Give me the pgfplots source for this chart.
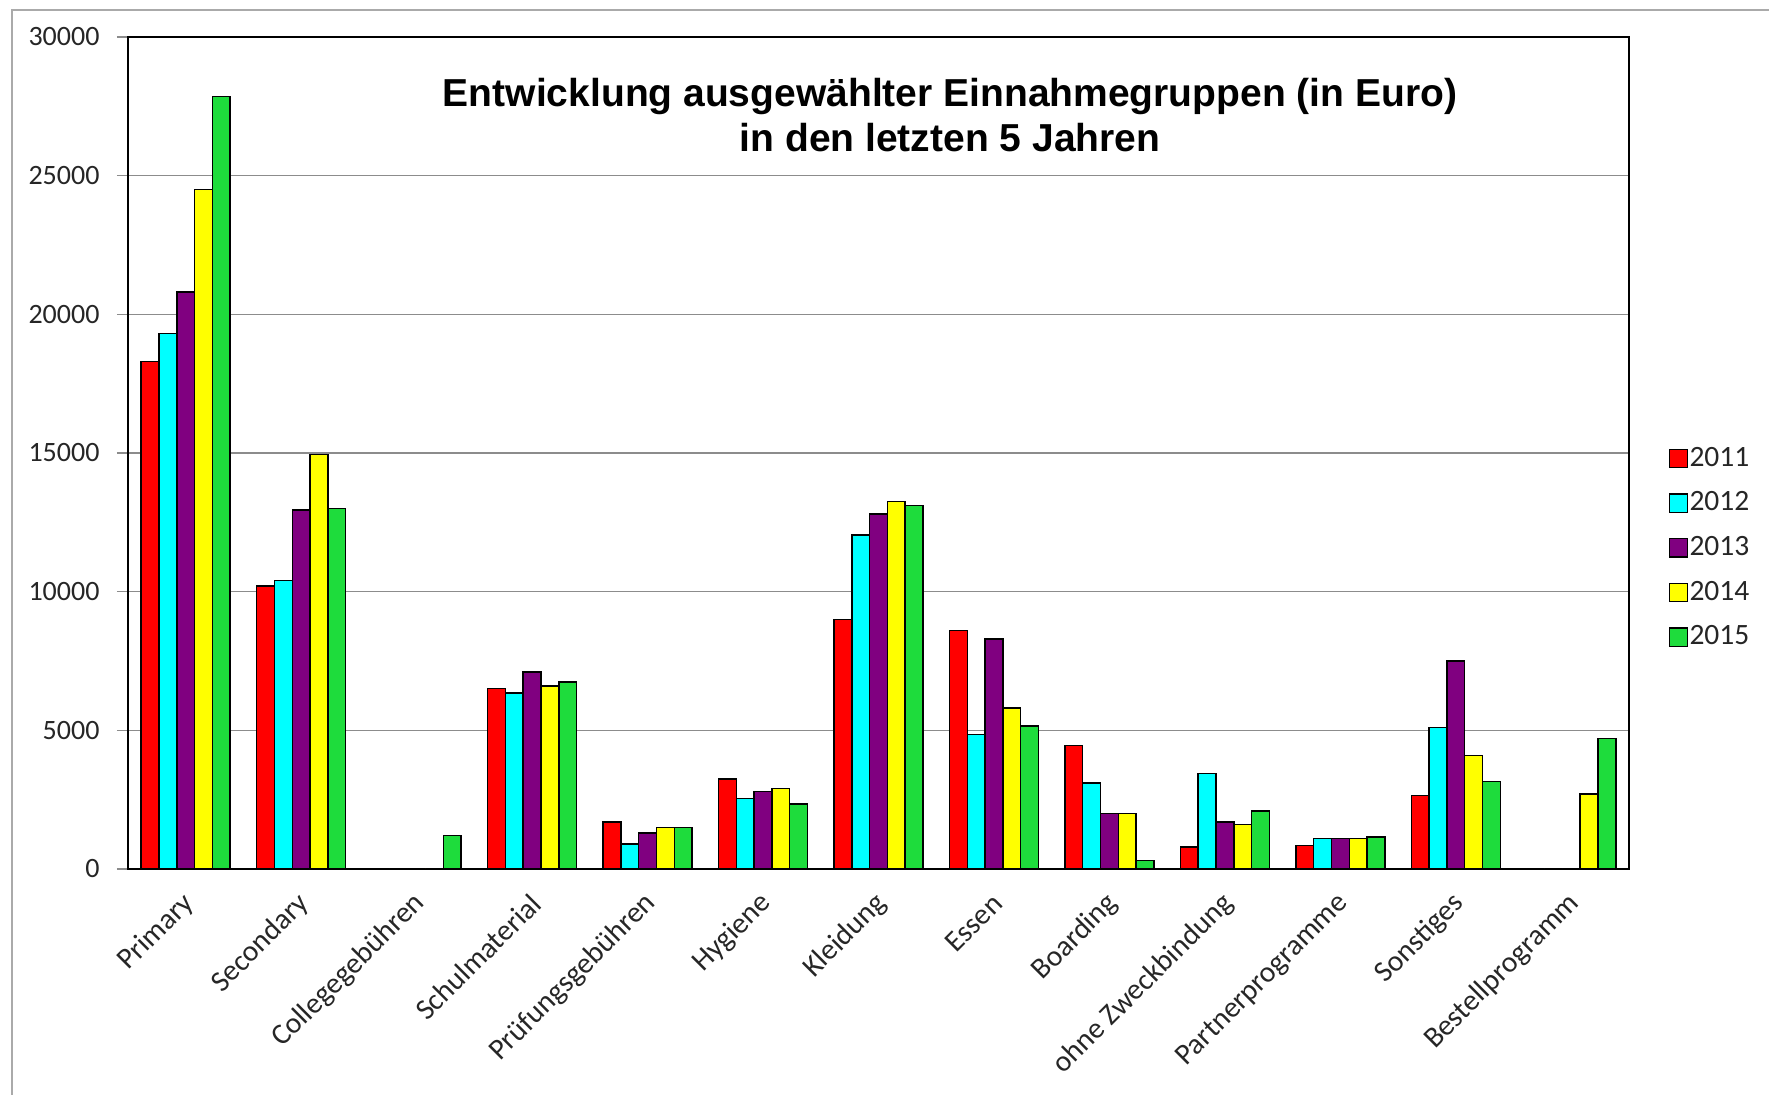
\documentclass[border=0pt]{standalone}
\usepackage{pgfplots}
\usepackage{pgfplotstable}
\pgfplotsset{compat=1.18}
\usepackage{fontspec}
\setmainfont{Carlito}
\newfontfamily\titlefont{Liberation Sans}
\definecolor{cRed}{RGB}{255,0,0}
\definecolor{cCyan}{RGB}{0,255,255}
\definecolor{cPurple}{RGB}{128,0,128}
\definecolor{cYellow}{RGB}{255,255,0}
\definecolor{cGreen}{RGB}{30,220,60}
\definecolor{gridgray}{RGB}{140,140,140}
\definecolor{framegray}{RGB}{170,170,170}

\pgfplotstableread{
x y2011 y2012 y2013 y2014 y2015
0 18300 19300 20800 24500 27850
1 10200 10400 12950 14950 13000
2 0 0 0 0 1200
3 6500 6350 7100 6600 6750
4 1700 900 1300 1500 1500
5 3250 2550 2800 2900 2350
6 9000 12050 12800 13250 13100
7 8600 4850 8300 5800 5150
8 4450 3100 2000 2000 300
9 800 3450 1700 1600 2100
10 850 1100 1100 1100 1150
11 2650 5100 7500 4100 3150
12 0 0 0 2700 4700
}\datatable

\begin{document}
\begin{tikzpicture}
\path[use as bounding box] (0pt,0pt) rectangle (707.6pt,-438pt);
\draw[framegray, line width=0.6pt] (4.8pt,-438pt) -- (4.8pt,-4pt) -- (707.6pt,-4pt);
\begin{axis}[
  at={(51.2pt,-347.6pt)}, anchor=south west,
  scale only axis, width=600.4pt, height=332.8pt,
  xmin=-0.5, xmax=12.5, ymin=0, ymax=30000,
  ybar=0pt, bar width=7.12pt,
  axis line style={black, line width=1.1pt},
  ymajorgrids, grid style={gridgray, line width=0.5pt},
  ytick={0,5000,...,30000},
  ytick pos=left,
  scaled y ticks=false,
  tick align=outside,
  major tick length=4.4pt,
  ytick style={gridgray, line width=0.5pt},
  xtick style={draw=none},
  xtick={0,...,12},
  xticklabels={Primary, Secondary, Collegegebühren, Schulmaterial, Prüfungsgebühren, Hygiene, Kleidung, Essen, Boarding, ohne Zweckbindung, Partnerprogramme, Sonstiges, Bestellprogramm},
  /pgf/number format/assume math mode=true,
  /pgf/number format/set thousands separator={},
  yticklabel style={font=\fontsize{11.2pt}{13.4pt}\selectfont, text=black!85, inner sep=0pt, xshift=-6.8pt},
  xticklabel style={font=\fontsize{11.8pt}{14pt}\selectfont, text=black!85, xshift=1.6pt, yshift=-7.5pt, rotate=45, anchor=east, inner sep=0pt},
  legend image code/.code={\draw[#1, line width=0.5pt] (0pt,-3.7pt) rectangle (7.4pt,3.7pt);},
  legend style={draw=none, fill=none, at={(1.026,0.386)}, anchor=west, inner sep=0pt,
    row sep=7.7pt, font=\fontsize{11.8pt}{14pt}\selectfont, text=black!85,
    nodes={inner sep=0.5pt, anchor=west},
    /tikz/every even column/.append style={column sep=0pt}},
  legend cell align=left,
]
\addplot[fill=cRed, draw=black, line width=0.6pt] table[x=x, y=y2011] {\datatable};
\addplot[fill=cCyan, draw=black, line width=0.6pt] table[x=x, y=y2012] {\datatable};
\addplot[fill=cPurple, draw=black, line width=0.6pt] table[x=x, y=y2013] {\datatable};
\addplot[fill=cYellow, draw=black, line width=0.6pt] table[x=x, y=y2014] {\datatable};
\addplot[fill=cGreen, draw=black, line width=0.6pt] table[x=x, y=y2015] {\datatable};
\legend{2011,2012,2013,2014,2015}
\end{axis}
\node[font=\titlefont\bfseries\fontsize{15.6pt}{18pt}\selectfont, align=center] at (380pt,-46pt)
  {Entwicklung ausgewählter Einnahmegruppen (in Euro)\\in den letzten 5 Jahren};
\end{tikzpicture}
\end{document}
